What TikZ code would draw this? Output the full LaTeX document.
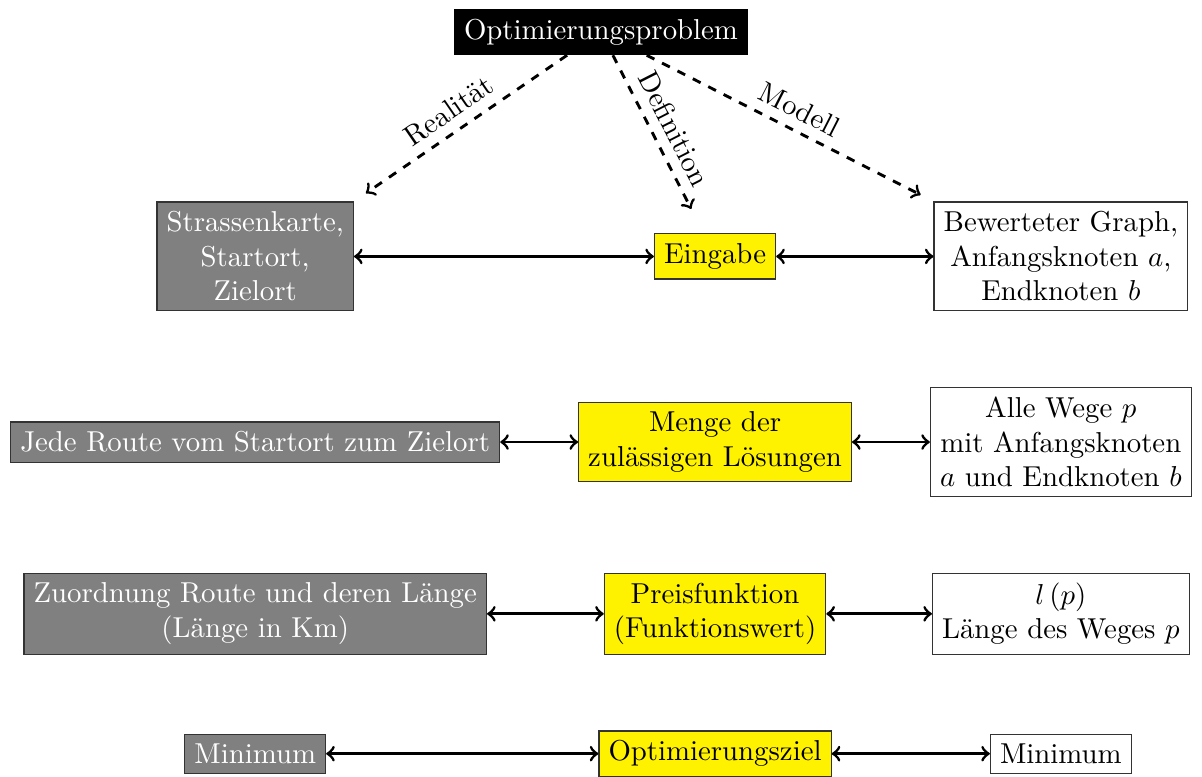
\documentclass[tikz,border=0pt]{standalone}
\usepackage{fontspec}
\usepackage{tikz}
\usetikzlibrary{shapes,arrows,fit,calc,positioning}
\usepackage{xcolor}

\begin{document}
\begin{tikzpicture}[
	  every node/.style={align=center,draw=none},
	  every matrix/.style={ampersand replacement=\&,column sep=0.95cm,row sep=0.92cm},
	  problem/.style={fill=black,text=white},
	  reality/.style={draw=black!80,fill=gray,text=white},
	  definition/.style={draw=black!80,fill=yellow,text=black},
	  model/.style={draw=black!80,fill=white,text=black},
	  link/.style={<->,>=to,line width=1pt},
	  dashlink/.style={->,>=to,dashed,line width=1pt,shorten >=5pt}]

	  % Realitaet | Definition | Modell, one row per aspect
	  \matrix (m) {
	    \node[reality] (karte) {Strassenkarte,\\Startort,\\Zielort}; \& \node[definition] (eingabe) {Eingabe}; \& \node[model] (graph) {Bewerteter Graph,\\Anfangsknoten $a$,\\Endknoten $b$};\\
	    \node[reality] (route) {Jede Route vom Startort zum Zielort}; \& \node[definition] (menge) {Menge der\\zulässigen Lösungen}; \& \node[model] (wege) {Alle Wege $p$\\mit Anfangsknoten\\$a$ und Endknoten $b$};\\
	    \node[reality] (laenge) {Zuordnung Route und deren Länge\\(Länge in Km)}; \& \node[definition] (preis) {Preisfunktion\\(Funktionswert)}; \& \node[model] (lp) {$l\left(p\right)$\\Länge des Weges $p$};\\
	    \node[reality] (minreal) {Minimum}; \& \node[definition] (ziel) {Optimierungsziel}; \& \node[model] (minmodel) {Minimum};\\
	  };
	  \node[problem,above=1.66cm of m] (problem) {Optimierungsproblem};

	  \coordinate (eingabetop) at ($(eingabe.north)+(-6pt,4pt)$);
	  \draw[dashlink] (problem) -- node[midway,above,sloped] {Realität} (karte.north east);
	  \draw[dashlink] (problem) -- node[midway,above,sloped] {Definition} (eingabetop);
	  \draw[dashlink] (problem) -- node[midway,above,sloped] {Modell} (graph.north west);

	  \draw[link] (karte) -- (eingabe);
	  \draw[link] (eingabe) -- (graph);
	  \draw[link] (route) -- (menge);
	  \draw[link] (menge) -- (wege);
	  \draw[link] (laenge) -- (preis);
	  \draw[link] (preis) -- (lp);
	  \draw[link] (minreal) -- (ziel);
	  \draw[link] (ziel) -- (minmodel);

	  \pgfresetboundingbox
	  \path ($(m.west |- problem.north)+(0,3pt)$) rectangle (m.east |- ziel.south);
\end{tikzpicture}
\end{document}
